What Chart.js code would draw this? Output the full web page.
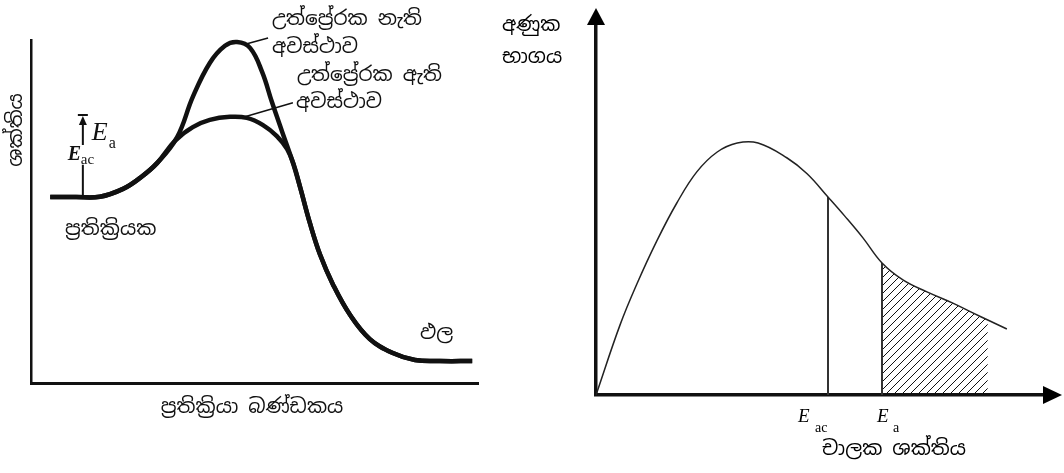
<!DOCTYPE html>
<html lang="si">
<head>
<meta charset="utf-8">
<title>සක්‍රියන ශක්තිය</title>
<script src="https://cdn.jsdelivr.net/npm/chart.js@4.4.1/dist/chart.umd.min.js"></script>
<style>
  html, body { margin: 0; padding: 0; background: #fff; }
  #wrap { position: relative; width: 1064px; height: 473px; overflow: hidden; }
  #wrap canvas { position: absolute; top: 0; }
  #profile { left: 0; }
  #distribution { left: 480px; }
</style>
</head>
<body>
<div id="wrap">
  <canvas id="profile" width="480" height="473" style="width:480px;height:473px"></canvas>
  <canvas id="distribution" width="584" height="473" style="width:584px;height:473px"></canvas>
</div>
<script>
// --- ශක්ති සටහන (ප්‍රතික්‍රියා බණ්ඩකය 0-100, ශක්තිය 0-100) ---
const pathNoCatX  = [4.3, 10.0, 15.4, 20.6, 24.4, 28.2, 32.7, 36.2, 40.0, 43.4, 46.1, 49.0, 51.7, 53.9, 56.2, 58.4, 60.2, 62.4, 64.7, 67.6, 71.4, 75.8, 80.8, 85.9, 91.5, 98.7];
const energyNoCat = [54.2, 54.2, 54.3, 56.6, 59.8, 64.1, 71.7, 83.4, 93.3, 98.3, 99.4, 97.7, 90.7, 81.9, 73.2, 65.0, 57.1, 46.6, 37.3, 28.6, 19.8, 12.8, 8.8, 6.7, 6.4, 6.4];
const pathCatX    = [4.3, 10.0, 15.4, 20.6, 24.4, 28.2, 32.2, 36.2, 40.0, 44.5, 48.3, 51.9, 55.0, 57.3, 58.8, 60.2, 62.4, 64.7, 67.6, 71.4, 75.8, 80.8, 85.9, 91.5, 98.7];
const energyCat   = [54.2, 54.2, 54.3, 56.6, 59.8, 64.1, 70.6, 74.6, 76.7, 77.6, 77.3, 75.2, 72.0, 68.2, 63.6, 57.1, 46.6, 37.3, 28.6, 19.8, 12.8, 8.8, 6.7, 6.4, 6.4];
const arrowX = 11.6;          // E_a ඊතලය
const reactantLevel = 54.2;
const arrowTop = 78.1;
const arrowGap = [63.6, 69.4]; // E_ac ලේබලය සඳහා හිඩැස

// --- වාලක ශක්ති ව්‍යාප්තිය (ශක්තිය 0-100, අණුක භාගය 0-100) ---
const kineticX = [0, 5.3, 9.0, 13.4, 17.8, 22.2, 26.7, 31.1, 35.7, 42.1, 46.5, 51.1, 54.8, 58.8, 63.0, 67.6, 72.9, 78.6, 83.0, 86.3, 90.5];
const fraction = [0, 18.7, 29.6, 41.1, 51.2, 59.5, 64.8, 67.2, 67.2, 63.2, 59.0, 52.8, 47.7, 41.9, 35.2, 30.7, 27.5, 24.5, 21.9, 20.0, 17.6];
const eAc = 51.1;
const eA = 63.0;
const hatchEnd = 86.3;

const SINHALA = "'Noto Sans Sinhala', 'Iskoola Pota', 'Noto Serif Sinhala', 'Noto Sans', sans-serif";
const SERIF = "'Liberation Serif', 'DejaVu Serif', serif";

Chart.defaults.animation = false;

function toPoints(xs, ys) {
  return xs.map((x, i) => ({ x: x, y: ys[i] }));
}

function fractionAt(v) {
  return fraction[kineticX.indexOf(v)];
}

function hiddenAxis(width) {
  return {
    type: 'linear', min: 0, max: 100,
    ticks: { display: false },
    grid: { display: false, drawTicks: false },
    border: { display: true, color: '#111', width: width }
  };
}

// E අකුර සහ යටි අකුරු
function drawSymbol(ctx, x, y, sub, bigFont, smallFont, subX, subY) {
  ctx.textAlign = 'left';
  ctx.textBaseline = 'alphabetic';
  ctx.font = bigFont;
  ctx.fillText('E', x, y);
  ctx.font = smallFont;
  ctx.fillText(sub, x + subX, y + subY);
}

function text(ctx, str, x, y, align, size) {
  ctx.font = (size || 20) + 'px ' + SINHALA;
  ctx.textAlign = align || 'left';
  ctx.textBaseline = 'middle';
  ctx.fillText(str, x, y);
}

const profileLabels = {
  id: 'profileLabels',
  afterDraw(chart) {
    const ctx = chart.ctx;
    const xs = chart.scales.x, ys = chart.scales.y;
    ctx.save();
    ctx.fillStyle = '#111';
    ctx.strokeStyle = '#111';

    // E_a ඊතලය
    const ax = xs.getPixelForValue(arrowX);
    const yBase = ys.getPixelForValue(reactantLevel);
    const yTip = ys.getPixelForValue(arrowTop);
    ctx.lineWidth = 2;
    ctx.beginPath();
    ctx.moveTo(ax, yBase);
    ctx.lineTo(ax, ys.getPixelForValue(arrowGap[0]));
    ctx.moveTo(ax, ys.getPixelForValue(arrowGap[1]));
    ctx.lineTo(ax, yTip + 8);
    ctx.moveTo(ax - 5, yTip);
    ctx.lineTo(ax + 5, yTip);
    ctx.stroke();
    ctx.beginPath();
    ctx.moveTo(ax, yTip + 1);
    ctx.lineTo(ax - 4, yTip + 10);
    ctx.lineTo(ax + 4, yTip + 10);
    ctx.closePath();
    ctx.fill();

    drawSymbol(ctx, ax + 9, yTip + 25, 'a', 'italic 26px ' + SERIF, '16px ' + SERIF, 17, 8);
    drawSymbol(ctx, ax - 15, yTip + 45, 'ac', 'bold italic 20px ' + SERIF, '15px ' + SERIF, 13, 4);

    // ශිඛර වෙත සම්බන්ධ රේඛා
    const peakNoCat = energyNoCat.indexOf(Math.max(...energyNoCat));
    const peakCat = energyCat.indexOf(Math.max(...energyCat));
    const p1x = xs.getPixelForValue(pathNoCatX[peakNoCat]), p1y = ys.getPixelForValue(energyNoCat[peakNoCat]);
    const p2x = xs.getPixelForValue(pathCatX[peakCat]), p2y = ys.getPixelForValue(energyCat[peakCat]);
    ctx.lineWidth = 1.5;
    ctx.beginPath();
    ctx.moveTo(p1x + 9, p1y + 2);
    ctx.lineTo(p1x + 31, p1y - 4);
    ctx.moveTo(p2x + 15, p2y);
    ctx.lineTo(p2x + 63, p2y - 14);
    ctx.stroke();

    text(ctx, 'උත්ප්\u200dරේරක නැති', 272, 19);
    text(ctx, 'අවස්ථාව', 272, 47);
    text(ctx, 'උත්ප්\u200dරේරක ඇති', 297, 75);
    text(ctx, 'අවස්ථාව', 296, 102);
    text(ctx, 'ප්\u200dරතික්\u200dරියක', 65, 229);
    text(ctx, 'ඵල', 420, 333);
    text(ctx, 'ප්\u200dරතික්\u200dරියා බණ්ඩකය', 252, 407, 'center');

    ctx.translate(16, 130);
    ctx.rotate(-Math.PI / 2);
    text(ctx, 'ශක්තිය', 0, 0, 'center');
    ctx.restore();
  }
};

const curveStyle = { borderColor: '#111', borderWidth: 4.5, pointRadius: 0, tension: 0.4, clip: false };

new Chart(document.getElementById('profile'), {
  type: 'line',
  data: {
    datasets: [
      Object.assign({ data: toPoints(pathNoCatX, energyNoCat) }, curveStyle),
      Object.assign({ data: toPoints(pathCatX, energyCat) }, curveStyle)
    ]
  },
  options: {
    responsive: false,
    layout: { padding: { left: 31, right: 2, top: 40, bottom: 90 } },
    plugins: { legend: { display: false }, tooltip: { enabled: false } },
    scales: { x: hiddenAxis(3), y: hiddenAxis(2.5) }
  },
  plugins: [profileLabels]
});

// --- දකුණු සටහන ---
const distCanvas = document.getElementById('distribution');

function hatchPattern(ctx) {
  const tile = document.createElement('canvas');
  tile.width = tile.height = 8;
  const t = tile.getContext('2d');
  t.strokeStyle = '#111';
  t.lineWidth = 1;
  t.beginPath();
  t.moveTo(0, 8); t.lineTo(8, 0);
  t.moveTo(-1, 1); t.lineTo(1, -1);
  t.moveTo(7, 9); t.lineTo(9, 7);
  t.stroke();
  return ctx.createPattern(tile, 'repeat');
}

const distLabels = {
  id: 'distLabels',
  afterDraw(chart) {
    const ctx = chart.ctx;
    const area = chart.chartArea;
    const xs = chart.scales.x;
    ctx.save();
    ctx.fillStyle = '#000';

    // අක්ෂ ඊතල
    ctx.beginPath();
    ctx.moveTo(area.left, area.top - 12);
    ctx.lineTo(area.left - 9, area.top + 5);
    ctx.lineTo(area.left + 9, area.top + 5);
    ctx.closePath();
    ctx.fill();
    ctx.beginPath();
    ctx.moveTo(area.right + 12, area.bottom);
    ctx.lineTo(area.right - 7, area.bottom - 9);
    ctx.lineTo(area.right - 7, area.bottom + 9);
    ctx.closePath();
    ctx.fill();

    const pAc = xs.getPixelForValue(eAc);
    const pA = xs.getPixelForValue(eA);
    drawSymbol(ctx, pAc - 30, area.bottom + 27, 'ac', 'italic 19px ' + SERIF, '14px ' + SERIF, 17, 10);
    drawSymbol(ctx, pA - 5, area.bottom + 27, 'a', 'italic 19px ' + SERIF, '14px ' + SERIF, 16, 10);

    text(ctx, 'අණුක', 22, 25);
    text(ctx, 'භාගය', 22, 57);
    text(ctx, 'චාලක ශක්තිය', 414, 449, 'center');
    ctx.restore();
  }
};

new Chart(distCanvas, {
  type: 'line',
  data: {
    datasets: [
      { data: toPoints(kineticX, fraction), borderColor: '#222', borderWidth: 1.5, pointRadius: 0, tension: 0.4 },
      { data: [{ x: eAc, y: 0 }, { x: eAc, y: fractionAt(eAc) }], borderColor: '#333', borderWidth: 2, pointRadius: 0 },
      { data: [{ x: eA, y: 0 }, { x: eA, y: fractionAt(eA) }], borderColor: '#333', borderWidth: 2, pointRadius: 0 },
      {
        data: toPoints(kineticX, fraction).filter(p => p.x >= eA && p.x <= hatchEnd),
        borderWidth: 0, pointRadius: 0, tension: 0.4,
        fill: 'origin', backgroundColor: hatchPattern(distCanvas.getContext('2d'))
      }
    ]
  },
  options: {
    responsive: false,
    layout: { padding: { left: 116, right: 14, top: 20, bottom: 78 } },
    plugins: { legend: { display: false }, tooltip: { enabled: false } },
    scales: { x: hiddenAxis(3.5), y: hiddenAxis(3.5) }
  },
  plugins: [distLabels]
});
</script>
</body>
</html>
